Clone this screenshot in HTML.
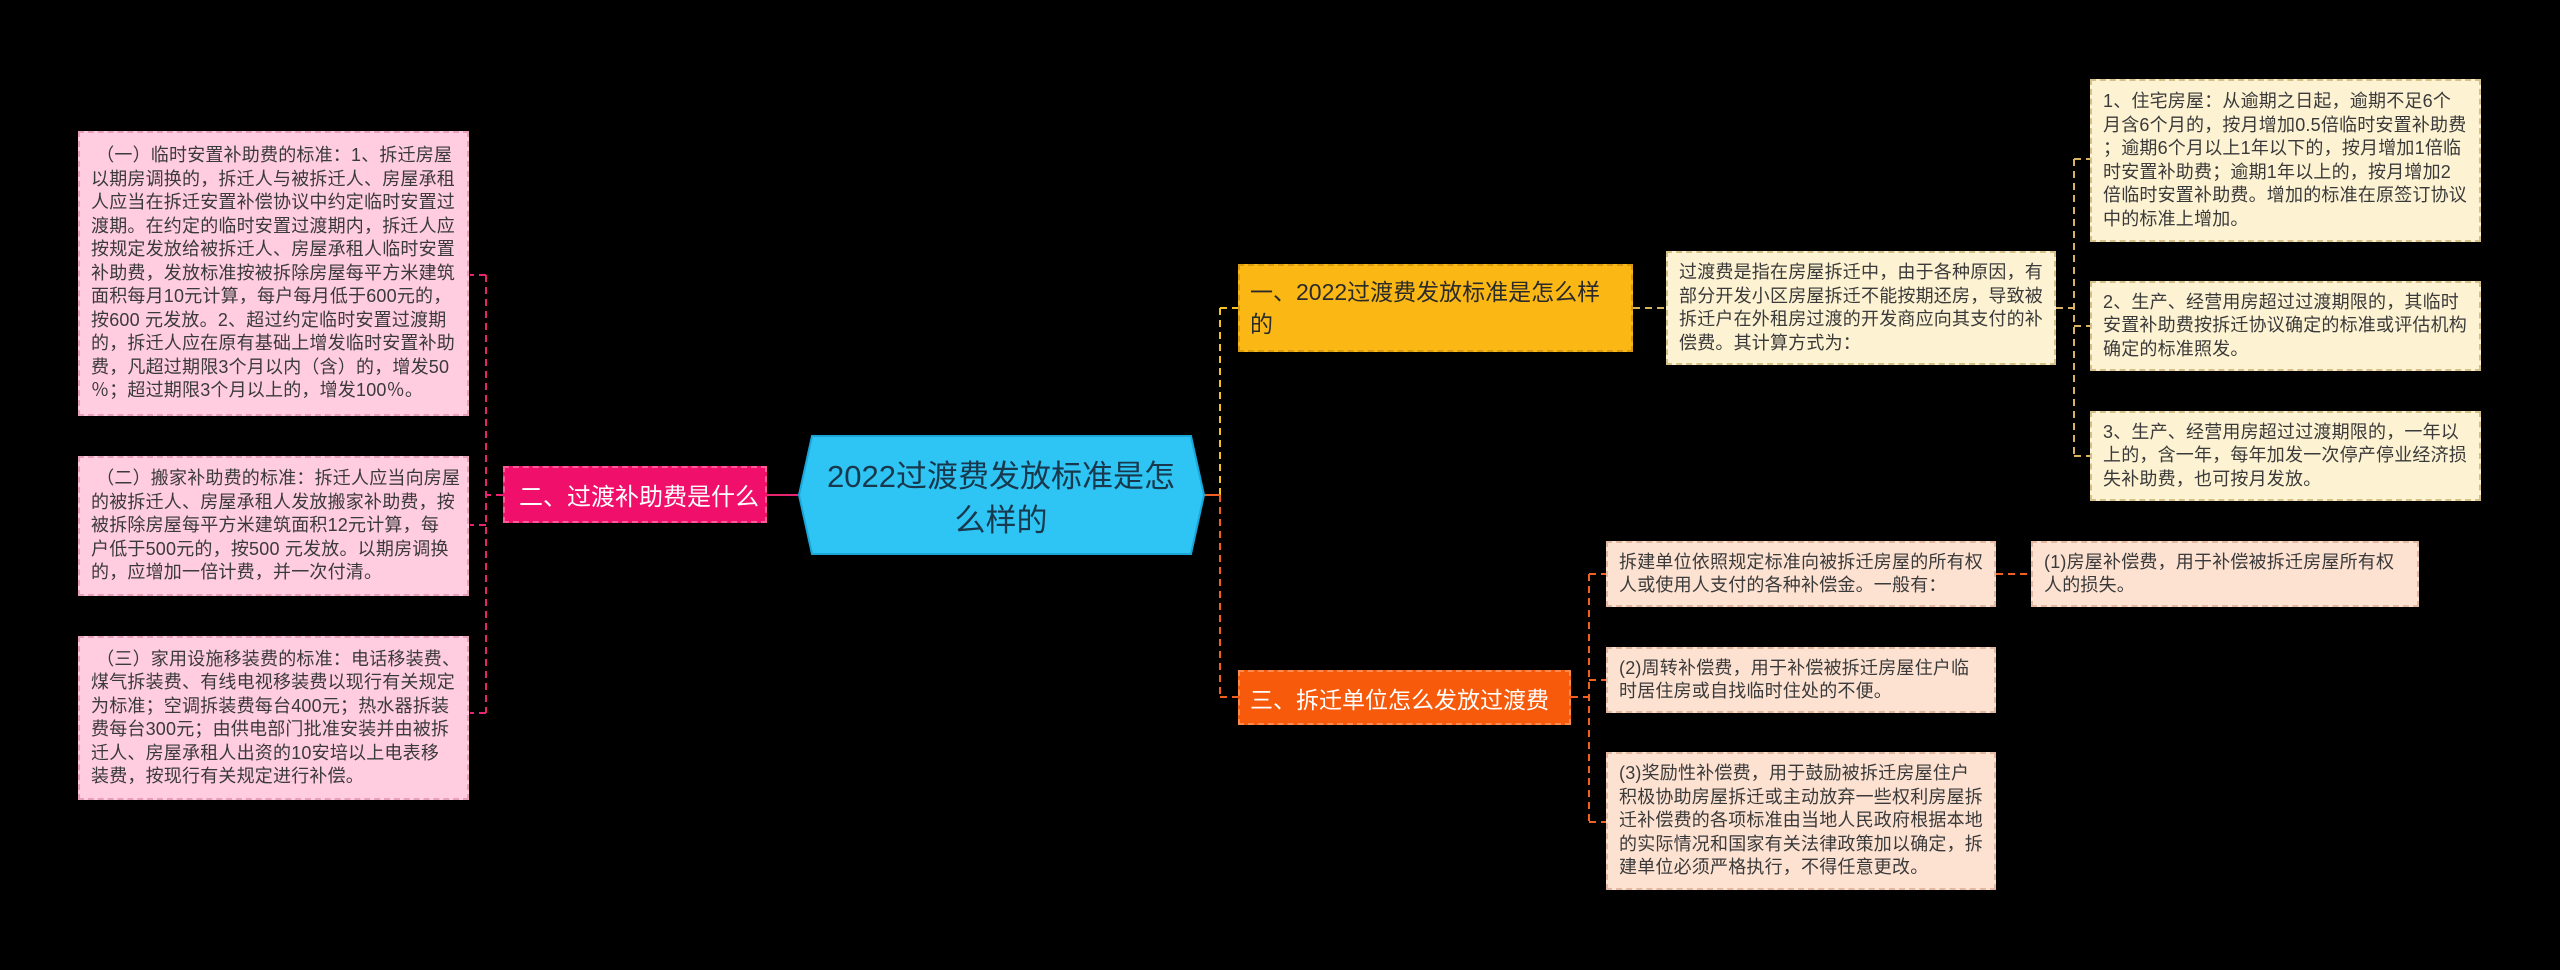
<!DOCTYPE html>
<html><head><meta charset="utf-8"><style>
html,body{margin:0;padding:0;background:#000;}
body{width:2560px;height:970px;position:relative;overflow:hidden;font-family:"Liberation Sans","Noto Sans CJK SC",sans-serif;}
.b{position:absolute;box-sizing:border-box;display:flex;align-items:center;white-space:nowrap;}
.t{font-size:18px;line-height:23.5px;color:#3a3a3a;padding-left:11px;letter-spacing:0.2px;}
.pk{background:#ffcce0;border:2px dashed #e8a0b8;}
.yl{background:#fdf2d2;border:2px dashed #d6c08a;}
.pc{background:#fde2d2;border:2px dashed #e2b8a0;}
svg{position:absolute;left:0;top:0;}
</style></head><body>
<svg width="2560" height="970">
<g fill="none" stroke-width="2" stroke-dasharray="7,5">
<g stroke="#e8246e">
<line x1="799" y1="495" x2="767" y2="495" stroke-dasharray="none"/>
<line x1="503" y1="495" x2="486" y2="495"/>
<line x1="486" y1="275" x2="486" y2="713"/>
<line x1="486" y1="275" x2="470" y2="275"/>
<line x1="486" y1="525" x2="470" y2="525"/>
<line x1="486" y1="713" x2="470" y2="713"/>
</g>
<g stroke="#f5c21f">
<line x1="1220" y1="308" x2="1220" y2="495"/>
<line x1="1220" y1="308" x2="1238" y2="308"/>
</g>
<g stroke="#f06020">
<line x1="1204" y1="495" x2="1220" y2="495" stroke-dasharray="none"/>
<line x1="1220" y1="495" x2="1220" y2="697"/>
<line x1="1220" y1="697" x2="1238" y2="697"/>
<line x1="1571" y1="697" x2="1589" y2="697"/>
<line x1="1589" y1="574" x2="1589" y2="822"/>
<line x1="1589" y1="574" x2="1606" y2="574"/>
<line x1="1589" y1="680" x2="1606" y2="680"/>
<line x1="1589" y1="822" x2="1606" y2="822"/>
<line x1="1996" y1="574" x2="2031" y2="574"/>
</g>
<g stroke="#d8b460">
<line x1="1633" y1="308" x2="1666" y2="308"/>
<line x1="2056" y1="308" x2="2074" y2="308"/>
<line x1="2074" y1="159" x2="2074" y2="456"/>
<line x1="2074" y1="159" x2="2090" y2="159"/>
<line x1="2074" y1="326" x2="2090" y2="326"/>
<line x1="2074" y1="456" x2="2090" y2="456"/>
</g>
</g>
<polygon points="812,436 1191,436 1204,495 1191,554 812,554 799,495" fill="#2ec4f3" stroke="#1aa6d8" stroke-width="2"/>
<text x="1001" y="487" text-anchor="middle" font-size="31" fill="#17384d" font-family="Liberation Sans, Noto Sans CJK SC, sans-serif">2022过渡费发放标准是怎</text>
<text x="1001" y="531" text-anchor="middle" font-size="31" fill="#17384d" font-family="Liberation Sans, Noto Sans CJK SC, sans-serif">么样的</text>
</svg>

<div class="b t pk" style="left:78px;top:131px;width:391px;height:285px;"><div>&nbsp;（一）临时安置补助费的标准：1、拆迁房屋<br>以期房调换的，拆迁人与被拆迁人、房屋承租<br>人应当在拆迁安置补偿协议中约定临时安置过<br>渡期。在约定的临时安置过渡期内，拆迁人应<br>按规定发放给被拆迁人、房屋承租人临时安置<br>补助费，发放标准按被拆除房屋每平方米建筑<br>面积每月10元计算，每户每月低于600元的，<br>按600 元发放。2、超过约定临时安置过渡期<br>的，拆迁人应在原有基础上增发临时安置补助<br>费，凡超过期限3个月以内（含）的，增发50<br>％；超过期限3个月以上的，增发100％。</div></div>
<div class="b t pk" style="left:78px;top:456px;width:391px;height:140px;"><div>&nbsp;（二）搬家补助费的标准：拆迁人应当向房屋<br>的被拆迁人、房屋承租人发放搬家补助费，按<br>被拆除房屋每平方米建筑面积12元计算，每<br>户低于500元的，按500 元发放。以期房调换<br>的，应增加一倍计费，并一次付清。</div></div>
<div class="b t pk" style="left:78px;top:636px;width:391px;height:164px;"><div>&nbsp;（三）家用设施移装费的标准：电话移装费、<br>煤气拆装费、有线电视移装费以现行有关规定<br>为标准；空调拆装费每台400元；热水器拆装<br>费每台300元；由供电部门批准安装并由被拆<br>迁人、房屋承租人出资的10安培以上电表移<br>装费，按现行有关规定进行补偿。</div></div>

<div class="b" style="left:503px;top:466px;width:264px;height:57px;background:#f0106c;border:2px dashed #ff5a98;color:#fff;font-size:24px;padding-left:14px;">二、过渡补助费是什么</div>

<div class="b" style="left:1238px;top:264px;width:395px;height:88px;background:#fbb815;border:2px dashed #d89a10;color:#2a2a2a;font-size:23px;line-height:32px;padding-left:10px;"><div>一、2022过渡费发放标准是怎么样<br>的</div></div>
<div class="b" style="left:1238px;top:670px;width:333px;height:55px;background:#f85a0c;border:2px dashed #ff8a50;color:#fff;font-size:23px;padding-left:10px;">三、拆迁单位怎么发放过渡费</div>

<div class="b t yl" style="left:1666px;top:251px;width:390px;height:114px;"><div>过渡费是指在房屋拆迁中，由于各种原因，有<br>部分开发小区房屋拆迁不能按期还房，导致被<br>拆迁户在外租房过渡的开发商应向其支付的补<br>偿费。其计算方式为：</div></div>
<div class="b t yl" style="left:2090px;top:79px;width:391px;height:163px;"><div>1、住宅房屋：从逾期之日起，逾期不足6个<br>月含6个月的，按月增加0.5倍临时安置补助费<br>；逾期6个月以上1年以下的，按月增加1倍临<br>时安置补助费；逾期1年以上的，按月增加2<br>倍临时安置补助费。增加的标准在原签订协议<br>中的标准上增加。</div></div>
<div class="b t yl" style="left:2090px;top:281px;width:391px;height:90px;"><div>2、生产、经营用房超过过渡期限的，其临时<br>安置补助费按拆迁协议确定的标准或评估机构<br>确定的标准照发。</div></div>
<div class="b t yl" style="left:2090px;top:411px;width:391px;height:90px;"><div>3、生产、经营用房超过过渡期限的，一年以<br>上的，含一年，每年加发一次停产停业经济损<br>失补助费，也可按月发放。</div></div>

<div class="b t pc" style="left:1606px;top:541px;width:390px;height:66px;"><div>拆建单位依照规定标准向被拆迁房屋的所有权<br>人或使用人支付的各种补偿金。一般有：</div></div>
<div class="b t pc" style="left:2031px;top:541px;width:388px;height:66px;"><div>(1)房屋补偿费，用于补偿被拆迁房屋所有权<br>人的损失。</div></div>
<div class="b t pc" style="left:1606px;top:647px;width:390px;height:66px;"><div>(2)周转补偿费，用于补偿被拆迁房屋住户临<br>时居住房或自找临时住处的不便。</div></div>
<div class="b t pc" style="left:1606px;top:752px;width:390px;height:138px;"><div>(3)奖励性补偿费，用于鼓励被拆迁房屋住户<br>积极协助房屋拆迁或主动放弃一些权利房屋拆<br>迁补偿费的各项标准由当地人民政府根据本地<br>的实际情况和国家有关法律政策加以确定，拆<br>建单位必须严格执行，不得任意更改。</div></div>
</body></html>
